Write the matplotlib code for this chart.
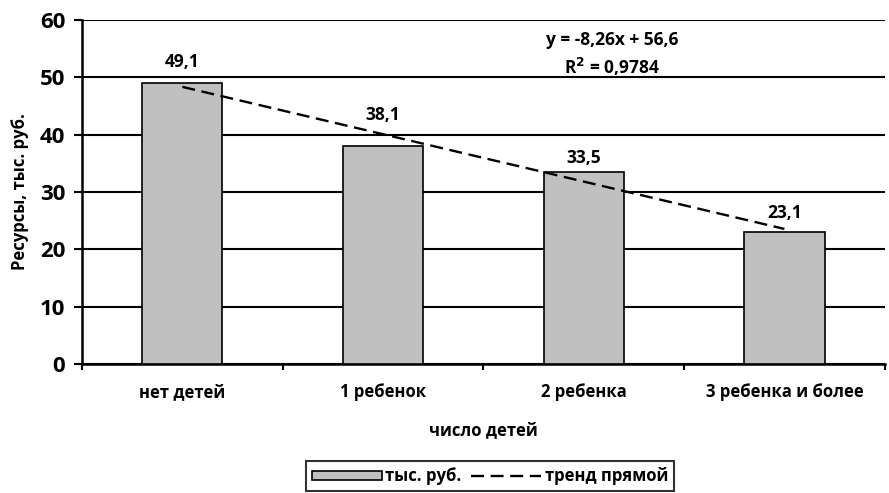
import matplotlib.pyplot as plt
import numpy as np

plt.rcParams['font.family'] = ['Open Sans', 'DejaVu Sans']
plt.rcParams['font.weight'] = 'bold'

categories = ['нет детей', '1 ребенок', '2 ребенка', '3 ребенка и более']
values = [49.1, 38.1, 33.5, 23.1]
trend_slope = -8.26
trend_icept = 56.6
r2 = 0.9784

# how far above each bar its label sits (data units)
label_dy = [3.6, 5.3, 2.4, 3.2]

fig = plt.figure(figsize=(8.89, 4.93), dpi=100)
ax = fig.add_axes([0.0922, 0.2617, 0.903, 0.6977])

x = np.arange(len(categories))
ax.bar(x, values, width=0.4, color='#c0c0c0', edgecolor='black', linewidth=1.2,
       zorder=3, label='тыс. руб.')

# linear trend, drawn at category numbers 1..4
xn = np.arange(1, len(categories) + 1)
ax.plot(x, trend_slope * xn + trend_icept, color='black', linestyle=(0, (5.5, 2.8)),
        linewidth=1.7, zorder=4, label='тренд прямой')

for xi, v, dy in zip(x, values, label_dy):
    ax.text(xi, v + dy, '{:.1f}'.format(v).replace('.', ','), ha='center', va='center',
            fontsize=12.5, fontweight='bold')

ax.text(2.14, 55.7, 'y = -8,26x + 56,6', ha='center', va='baseline', fontsize=12.5, fontweight='bold')
ax.text(2.14, 50.5, 'R$^2$ = ' + '{:.4f}'.format(r2).replace('.', ','), ha='center', va='baseline',
        fontsize=12.5, fontweight='bold')

ax.set_xlim(-0.5, 3.5)
ax.set_ylim(0, 60)
ax.set_yticks(np.arange(0, 61, 10))
ax.set_yticklabels([str(v) for v in range(0, 61, 10)], fontsize=16, fontweight='bold')
ax.set_xticks(x)
ax.set_xticklabels(categories, fontsize=12, fontweight='bold')
ax.tick_params(axis='x', length=0, pad=14)
ax.tick_params(axis='y', length=6, width=1.5, direction='out', pad=6)
ax.set_xticks(np.arange(-0.5, 4, 1), minor=True)
ax.tick_params(axis='x', which='minor', length=4, width=1.5, direction='out')
ax.yaxis.grid(True, color='black', linewidth=1.5, zorder=0)
ax.set_axisbelow(True)

for s in ['top', 'right']:
    ax.spines[s].set_visible(False)
ax.spines['left'].set_linewidth(1.8)
ax.spines['bottom'].set_linewidth(1.8)

ax.set_xlabel('число детей', fontsize=12, fontweight='bold', labelpad=14)
ax.set_ylabel('Ресурсы, тыс. руб.', fontsize=12, fontweight='bold', labelpad=8)

handles, labels = ax.get_legend_handles_labels()
order = [labels.index('тыс. руб.'), labels.index('тренд прямой')]
leg = fig.legend([handles[i] for i in order], [labels[i] for i in order],
                 loc='center', bbox_to_anchor=(0.551, 0.034), ncol=2, frameon=True,
                 fancybox=False, edgecolor='black', fontsize=12, handlelength=4.2,
                 handleheight=0.5, handletextpad=0.2, columnspacing=0.6, borderpad=0.35)
leg.get_frame().set_linewidth(1.5)
for t in leg.get_texts():
    t.set_fontweight('bold')

fig.savefig('out.png', dpi=100)
